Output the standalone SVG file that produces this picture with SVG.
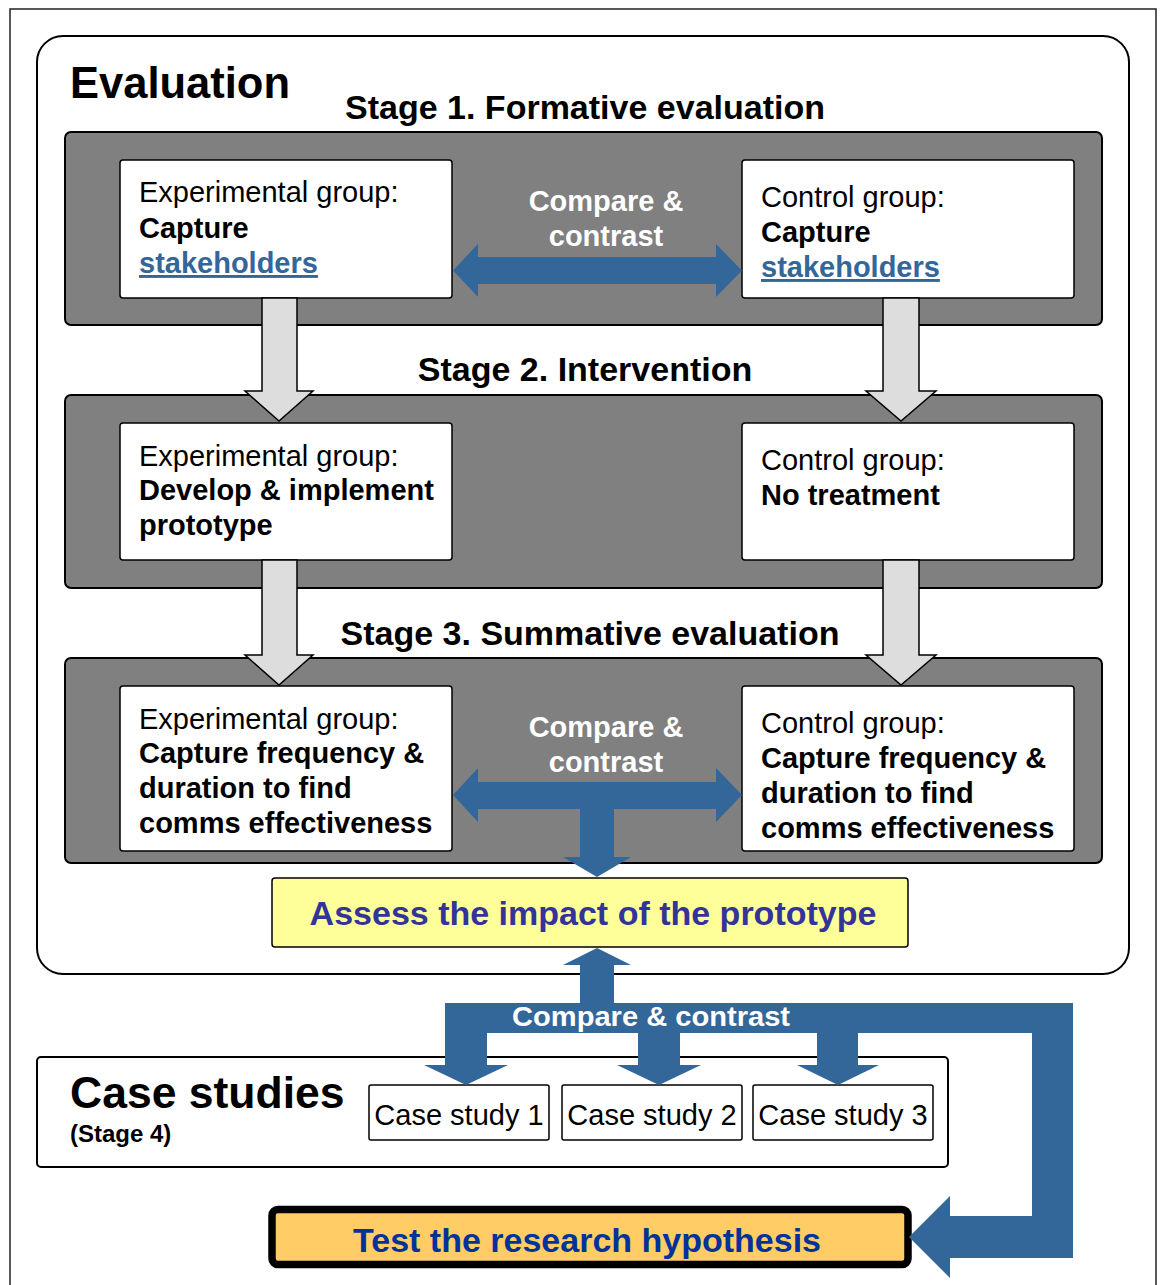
<svg xmlns="http://www.w3.org/2000/svg" width="1160" height="1285" viewBox="0 0 1160 1285">
  <style>
    text { font-family: "Liberation Sans", Arial, sans-serif; }
    .frame { fill: #ffffff; stroke: #222222; stroke-width: 1.5; }
    .panel { fill: #ffffff; stroke: #000000; stroke-width: 2; }
    .stage { fill: #808080; stroke: #000000; stroke-width: 2; }
    .card { fill: #ffffff; stroke: #000000; stroke-width: 1.5; }
    .flow { fill: #dddddd; stroke: #000000; stroke-width: 1.5; stroke-linejoin: miter; }
    .blue { fill: #336699; stroke: none; }
    .big { font-size: 43.5px; font-weight: bold; fill: #000000; }
    .title { font-size: 34px; font-weight: bold; fill: #000000; }
    .reg { font-size: 29px; fill: #000000; }
    .bold { font-size: 29px; font-weight: bold; fill: #000000; }
    .link { font-size: 29px; font-weight: bold; fill: #336699; text-decoration: underline; }
    .cmp { font-size: 29px; font-weight: bold; fill: #ffffff; text-anchor: middle; }
  </style>

  <!-- page frame -->
  <rect class="frame" x="10" y="9" width="1146" height="1290"/>

  <!-- evaluation panel -->
  <g id="evaluation">
    <rect class="panel" x="37" y="36" width="1092" height="938" rx="26"/>
    <text class="big" x="70" y="98">Evaluation</text>
  </g>

  <!-- stage 1 -->
  <g id="stage1">
    <text class="title" x="585" y="119" text-anchor="middle">Stage 1. Formative evaluation</text>
    <rect class="stage" x="65" y="132" width="1037" height="193" rx="6"/>
  </g>
  <g id="s1-experimental">
    <rect class="card" x="120" y="160" width="332" height="138" rx="3"/>
    <text class="reg" x="139" y="202">Experimental group:</text>
    <text class="bold" x="139" y="238">Capture</text>
    <text class="link" x="139" y="273">stakeholders</text>
  </g>
  <g id="s1-control">
    <rect class="card" x="742" y="160" width="332" height="138" rx="3"/>
    <text class="reg" x="761" y="207">Control group:</text>
    <text class="bold" x="761" y="242">Capture</text>
    <text class="link" x="761" y="277">stakeholders</text>
  </g>

  <!-- stage 2 -->
  <g id="stage2">
    <text class="title" x="585" y="381" text-anchor="middle">Stage 2. Intervention</text>
    <rect class="stage" x="65" y="395" width="1037" height="193" rx="6"/>
  </g>
  <g id="s2-experimental">
    <rect class="card" x="120" y="423" width="332" height="137" rx="3"/>
    <text class="reg" x="139" y="466">Experimental group:</text>
    <text class="bold" x="139" y="500">Develop &amp; implement</text>
    <text class="bold" x="139" y="535">prototype</text>
  </g>
  <g id="s2-control">
    <rect class="card" x="742" y="423" width="332" height="137" rx="3"/>
    <text class="reg" x="761" y="470">Control group:</text>
    <text class="bold" x="761" y="505">No treatment</text>
  </g>

  <!-- stage 3 -->
  <g id="stage3">
    <text class="title" x="590" y="645" text-anchor="middle">Stage 3. Summative evaluation</text>
    <rect class="stage" x="65" y="658" width="1037" height="205" rx="6"/>
  </g>
  <g id="s3-experimental">
    <rect class="card" x="120" y="686" width="332" height="165" rx="3"/>
    <text class="reg" x="139" y="729">Experimental group:</text>
    <text class="bold" x="139" y="763">Capture frequency &amp;</text>
    <text class="bold" x="139" y="798">duration to find</text>
    <text class="bold" x="139" y="833">comms effectiveness</text>
  </g>
  <g id="s3-control">
    <rect class="card" x="742" y="686" width="332" height="165" rx="3"/>
    <text class="reg" x="761" y="733">Control group:</text>
    <text class="bold" x="761" y="768">Capture frequency &amp;</text>
    <text class="bold" x="761" y="803">duration to find</text>
    <text class="bold" x="761" y="838">comms effectiveness</text>
  </g>

  <!-- outcome of the evaluation -->
  <g id="assess">
    <rect x="272" y="878" width="636" height="69" rx="3" fill="#ffff99" stroke="#000000" stroke-width="1.5"/>
    <text x="593" y="925" text-anchor="middle" font-size="34" font-weight="bold" fill="#333399">Assess the impact of the prototype</text>
  </g>

  <!-- case studies -->
  <g id="case-studies">
    <rect class="panel" x="37" y="1057" width="911" height="110" rx="4"/>
    <text class="big" x="70" y="1108" style="font-size:44.5px">Case studies</text>
    <text x="70" y="1142" font-size="24" font-weight="bold">(Stage 4)</text>
  </g>
  <g id="case1">
    <rect class="card" x="369" y="1085" width="180" height="55" rx="2"/>
    <text class="reg" x="459" y="1125" text-anchor="middle">Case study 1</text>
  </g>
  <g id="case2">
    <rect class="card" x="562" y="1085" width="180" height="55" rx="2"/>
    <text class="reg" x="652" y="1125" text-anchor="middle">Case study 2</text>
  </g>
  <g id="case3">
    <rect class="card" x="753" y="1085" width="180" height="55" rx="2"/>
    <text class="reg" x="843" y="1125" text-anchor="middle">Case study 3</text>
  </g>

  <!-- final goal -->
  <g id="hypothesis">
    <rect x="272" y="1209.5" width="636" height="55" rx="6" fill="#ffcc66" stroke="#000000" stroke-width="7.5"/>
    <text x="587" y="1252" text-anchor="middle" font-size="34" font-weight="bold" fill="#003399">Test the research hypothesis</text>
  </g>

  <!-- connectors -->
  <g id="connectors">
    <!-- stage to stage flow -->
    <polygon class="flow" points="262,298 297,298 297,391 313,391 279,421 245,391 262,391"/>
    <polygon class="flow" points="883,298 919,298 919,391 936,391 901,421 866,391 883,391"/>
    <polygon class="flow" points="262,560 297,560 297,655 313,655 279,685 245,655 262,655"/>
    <polygon class="flow" points="883,560 919,560 919,655 936,655 901,685 866,655 883,655"/>

    <!-- stage 1 comparison -->
    <polygon class="blue" points="453,270.5 478,244 478,257 716,257 716,244 742,270.5 716,297 716,284 478,284 478,297"/>
    <text class="cmp" x="606" y="211">Compare &amp;</text>
    <text class="cmp" x="606" y="246">contrast</text>

    <!-- stage 3 comparison feeding the assessment -->
    <polygon class="blue" points="453,795 478,768 478,782 716,782 716,768 742,795 716,822 716,809 614,809 614,857 631,857 597,877 563,857 580,857 580,809 478,809 478,822"/>
    <text class="cmp" x="606" y="737">Compare &amp;</text>
    <text class="cmp" x="606" y="772">contrast</text>

    <!-- assessment vs case studies, on to the hypothesis -->
    <path class="blue" d="M597,948 L631,965 L614,965 L614,1003 L1073,1003 L1073,1258 L950,1258 L950,1278 L909,1237 L950,1196 L950,1216 L1032,1216 L1032,1033 L858,1033 L858,1065 L879,1065 L838,1085 L797,1065 L817,1065 L817,1033 L680,1033 L680,1065 L701,1065 L659,1085 L617,1065 L638,1065 L638,1033 L487,1033 L487,1065 L508,1065 L466,1085 L424,1065 L445,1065 L445,1003 L580,1003 L580,965 L563,965 Z"/>
    <text x="651" y="1026" text-anchor="middle" font-size="28" font-weight="bold" fill="#ffffff" textLength="278" lengthAdjust="spacingAndGlyphs">Compare &amp; contrast</text>
  </g>
</svg>
